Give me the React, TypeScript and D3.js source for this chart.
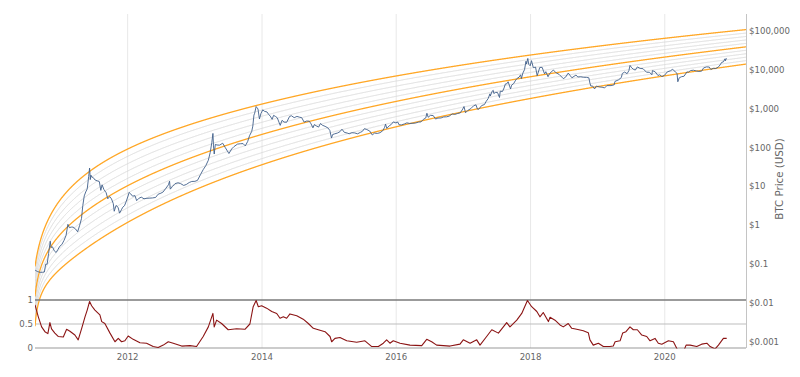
import React, { useMemo } from "react";
import * as d3 from "d3";

// ---------- data ----------
const priceSeries: [string, number][] = [
  ["2010-08-16", 0.07], ["2010-08-28", 0.065], ["2010-09-10", 0.062], ["2010-09-25", 0.062],
  ["2010-10-05", 0.063], ["2010-10-12", 0.1], ["2010-10-20", 0.1], ["2010-10-28", 0.19],
  ["2010-11-06", 0.39], ["2010-11-10", 0.27], ["2010-11-18", 0.28], ["2010-11-28", 0.22],
  ["2010-12-08", 0.2], ["2010-12-18", 0.24], ["2010-12-28", 0.29], ["2011-01-08", 0.32],
  ["2011-01-20", 0.41], ["2011-01-31", 0.55], ["2011-02-10", 1.06], ["2011-02-18", 0.87],
  ["2011-02-28", 0.9], ["2011-03-10", 0.9], ["2011-03-24", 0.8], ["2011-04-04", 0.68],
  ["2011-04-15", 1.0], ["2011-04-25", 1.5], ["2011-05-02", 3.2], ["2011-05-10", 5.7],
  ["2011-05-18", 7.2], ["2011-05-26", 8.6], ["2011-06-03", 18], ["2011-06-08", 29.6],
  ["2011-06-12", 15], ["2011-06-15", 19.5], ["2011-06-20", 17.5], ["2011-06-28", 16.8],
  ["2011-07-08", 14.6], ["2011-07-20", 13.9], ["2011-07-31", 13.3], ["2011-08-08", 7.9],
  ["2011-08-15", 11.0], ["2011-08-25", 8.3], ["2011-09-06", 6.9], ["2011-09-15", 4.8],
  ["2011-09-25", 5.5], ["2011-10-05", 4.8], ["2011-10-15", 3.6], ["2011-10-20", 2.3],
  ["2011-10-30", 3.25], ["2011-11-10", 2.9], ["2011-11-18", 2.05], ["2011-11-28", 2.5],
  ["2011-12-05", 2.9], ["2011-12-15", 3.2], ["2011-12-25", 4.2], ["2012-01-05", 6.0],
  ["2012-01-09", 7.0], ["2012-01-18", 6.4], ["2012-01-28", 5.6], ["2012-02-10", 5.8],
  ["2012-02-19", 4.3], ["2012-03-01", 4.9], ["2012-03-15", 5.3], ["2012-03-30", 4.8],
  ["2012-04-15", 4.95], ["2012-05-01", 5.0], ["2012-05-15", 5.05], ["2012-06-01", 5.2],
  ["2012-06-15", 6.3], ["2012-06-30", 6.7], ["2012-07-12", 7.2], ["2012-07-25", 8.7],
  ["2012-08-10", 11.0], ["2012-08-16", 13.6], ["2012-08-20", 8.5], ["2012-09-01", 10.0],
  ["2012-09-15", 11.8], ["2012-10-01", 12.4], ["2012-10-15", 11.8], ["2012-11-01", 10.6],
  ["2012-11-15", 11.2], ["2012-12-01", 12.6], ["2012-12-15", 13.4], ["2013-01-01", 13.5],
  ["2013-01-15", 14.3], ["2013-02-01", 20.4], ["2013-02-15", 27], ["2013-03-01", 34],
  ["2013-03-15", 47], ["2013-03-25", 74], ["2013-04-03", 135], ["2013-04-09", 230],
  ["2013-04-12", 110], ["2013-04-16", 68], ["2013-04-22", 120], ["2013-05-01", 116],
  ["2013-05-15", 115], ["2013-06-01", 129], ["2013-06-15", 100], ["2013-07-05", 70],
  ["2013-07-20", 92], ["2013-08-01", 105], ["2013-08-20", 122], ["2013-09-05", 125],
  ["2013-09-20", 126], ["2013-10-02", 110], ["2013-10-15", 143], ["2013-10-25", 200],
  ["2013-11-06", 260], ["2013-11-12", 355], ["2013-11-18", 680], ["2013-11-22", 760],
  ["2013-11-30", 1130], ["2013-12-05", 1050], ["2013-12-10", 980], ["2013-12-18", 540],
  ["2013-12-26", 745], ["2014-01-05", 930], ["2014-01-15", 850], ["2014-01-28", 820],
  ["2014-02-07", 700], ["2014-02-15", 640], ["2014-02-25", 530], ["2014-03-05", 670],
  ["2014-03-15", 630], ["2014-03-25", 580], ["2014-04-03", 450], ["2014-04-10", 370],
  ["2014-04-20", 500], ["2014-05-01", 450], ["2014-05-15", 445], ["2014-05-31", 630],
  ["2014-06-10", 655], ["2014-06-25", 585], ["2014-07-10", 630], ["2014-07-25", 600],
  ["2014-08-05", 585], ["2014-08-18", 450], ["2014-09-01", 480], ["2014-09-15", 475],
  ["2014-09-25", 405], ["2014-10-05", 320], ["2014-10-13", 390], ["2014-10-25", 355],
  ["2014-11-05", 335], ["2014-11-15", 415], ["2014-11-25", 375], ["2014-12-10", 350],
  ["2014-12-25", 320], ["2015-01-05", 275], ["2015-01-14", 175], ["2015-01-20", 215],
  ["2015-02-01", 225], ["2015-02-15", 235], ["2015-03-01", 255], ["2015-03-12", 295],
  ["2015-03-25", 245], ["2015-04-10", 235], ["2015-04-20", 225], ["2015-05-05", 240],
  ["2015-05-20", 237], ["2015-06-05", 225], ["2015-06-20", 245], ["2015-07-01", 260],
  ["2015-07-12", 305], ["2015-07-25", 290], ["2015-08-10", 265], ["2015-08-24", 210],
  ["2015-09-05", 235], ["2015-09-20", 230], ["2015-10-05", 240], ["2015-10-20", 270],
  ["2015-10-30", 330], ["2015-11-04", 400], ["2015-11-11", 310], ["2015-11-25", 365],
  ["2015-12-05", 390], ["2015-12-16", 455], ["2015-12-30", 430], ["2016-01-10", 450],
  ["2016-01-16", 385], ["2016-01-30", 380], ["2016-02-15", 405], ["2016-02-28", 430],
  ["2016-03-15", 415], ["2016-04-01", 420], ["2016-04-15", 425], ["2016-05-01", 450],
  ["2016-05-15", 455], ["2016-05-28", 530], ["2016-06-10", 575], ["2016-06-16", 760],
  ["2016-06-23", 600], ["2016-07-05", 670], ["2016-07-20", 665], ["2016-08-02", 540],
  ["2016-08-15", 570], ["2016-09-01", 575], ["2016-09-15", 610], ["2016-10-01", 615],
  ["2016-10-15", 640], ["2016-11-01", 730], ["2016-11-15", 710], ["2016-12-01", 750],
  ["2016-12-15", 780], ["2016-12-28", 975], ["2017-01-04", 1130], ["2017-01-12", 780],
  ["2017-01-25", 900], ["2017-02-10", 1000], ["2017-02-25", 1180], ["2017-03-10", 1250],
  ["2017-03-18", 970], ["2017-03-25", 960], ["2017-04-10", 1200], ["2017-04-25", 1270],
  ["2017-05-05", 1550], ["2017-05-15", 1800], ["2017-05-25", 2400], ["2017-05-27", 2100],
  ["2017-06-06", 2800], ["2017-06-12", 2950], ["2017-06-15", 2450], ["2017-06-25", 2600],
  ["2017-07-05", 2600], ["2017-07-16", 1930], ["2017-07-20", 2800], ["2017-08-01", 2750],
  ["2017-08-10", 3400], ["2017-08-17", 4300], ["2017-08-25", 4350], ["2017-09-01", 4900],
  ["2017-09-14", 3200], ["2017-09-20", 4000], ["2017-10-01", 4400], ["2017-10-12", 5400],
  ["2017-10-20", 6000], ["2017-10-31", 6450], ["2017-11-08", 7400], ["2017-11-12", 5900],
  ["2017-11-20", 8200], ["2017-11-29", 10000], ["2017-12-07", 16500], ["2017-12-10", 14000],
  ["2017-12-17", 19500], ["2017-12-22", 13800], ["2017-12-30", 12600], ["2018-01-06", 17100],
  ["2018-01-16", 11300], ["2018-01-28", 11700], ["2018-02-06", 7000], ["2018-02-20", 11400],
  ["2018-03-05", 11500], ["2018-03-18", 7800], ["2018-03-25", 8900], ["2018-04-06", 6600],
  ["2018-04-15", 8000], ["2018-05-05", 9800], ["2018-05-20", 8300], ["2018-06-05", 7600],
  ["2018-06-28", 5900], ["2018-07-10", 6400], ["2018-07-25", 8200], ["2018-08-05", 7000],
  ["2018-08-14", 6200], ["2018-09-05", 7300], ["2018-09-15", 6500], ["2018-10-01", 6600],
  ["2018-10-15", 6400], ["2018-11-01", 6350], ["2018-11-14", 6200], ["2018-11-20", 4500],
  ["2018-11-25", 3800], ["2018-12-05", 3800], ["2018-12-15", 3200], ["2018-12-25", 3800],
  ["2019-01-10", 3600], ["2019-01-25", 3550], ["2019-02-08", 3400], ["2019-02-20", 3900],
  ["2019-03-15", 3900], ["2019-04-01", 4100], ["2019-04-05", 5000], ["2019-04-25", 5500],
  ["2019-05-10", 6300], ["2019-05-15", 8000], ["2019-05-28", 8700], ["2019-06-10", 7900],
  ["2019-06-20", 9500], ["2019-06-26", 12900], ["2019-07-05", 11200], ["2019-07-15", 10200],
  ["2019-07-25", 9800], ["2019-08-05", 11800], ["2019-08-20", 10800], ["2019-09-05", 10600],
  ["2019-09-24", 8600], ["2019-10-10", 8600], ["2019-10-23", 7400], ["2019-10-26", 9500],
  ["2019-11-10", 8800], ["2019-11-25", 7100], ["2019-12-05", 7400], ["2019-12-17", 6650],
  ["2019-12-31", 7200], ["2020-01-15", 8800], ["2020-02-01", 9400], ["2020-02-13", 10300],
  ["2020-02-28", 8700], ["2020-03-08", 8000], ["2020-03-12", 4900], ["2020-03-20", 6200],
  ["2020-04-01", 6600], ["2020-04-15", 6800], ["2020-04-30", 8700], ["2020-05-10", 8700],
  ["2020-05-20", 9500], ["2020-06-05", 9700], ["2020-06-20", 9300], ["2020-07-05", 9050],
  ["2020-07-20", 9200], ["2020-07-30", 11100], ["2020-08-15", 11800], ["2020-08-30", 11700],
  ["2020-09-08", 10100], ["2020-09-20", 10900], ["2020-10-05", 10700], ["2020-10-20", 11900],
  ["2020-10-28", 13300], ["2020-11-06", 15500], ["2020-11-15", 15900], ["2020-11-24", 19100],
  ["2020-11-26", 17000], ["2020-12-01", 19400], ["2020-12-03", 18900],
];

const oscSeries: [string, number][] = [
  ["2010-08-15", 0.9], ["2010-09-02", 0.65], ["2010-09-20", 0.44], ["2010-10-08", 0.34],
  ["2010-10-24", 0.3], ["2010-11-04", 0.53], ["2010-11-13", 0.4], ["2010-12-01", 0.31],
  ["2010-12-19", 0.24], ["2011-01-16", 0.23], ["2011-02-03", 0.39], ["2011-02-21", 0.35],
  ["2011-03-20", 0.27], ["2011-04-07", 0.17], ["2011-04-26", 0.41], ["2011-05-14", 0.65],
  ["2011-05-26", 0.79], ["2011-06-08", 0.97], ["2011-06-19", 0.88], ["2011-07-07", 0.79],
  ["2011-08-03", 0.69], ["2011-08-13", 0.55], ["2011-08-30", 0.51], ["2011-09-27", 0.31],
  ["2011-10-24", 0.13], ["2011-11-11", 0.2], ["2011-11-29", 0.13], ["2011-12-17", 0.15],
  ["2012-01-04", 0.25], ["2012-01-31", 0.18], ["2012-03-08", 0.11], ["2012-04-13", 0.1],
  ["2012-05-19", 0.03], ["2012-06-15", 0.01], ["2012-07-13", 0.06], ["2012-08-09", 0.13],
  ["2012-09-05", 0.1], ["2012-10-21", 0.04], ["2012-12-05", 0.05], ["2013-01-10", 0.03],
  ["2013-02-15", 0.24], ["2013-03-15", 0.44], ["2013-04-09", 0.72], ["2013-04-16", 0.44],
  ["2013-04-29", 0.58], ["2013-05-26", 0.51], ["2013-07-01", 0.38], ["2013-08-16", 0.4],
  ["2013-09-30", 0.39], ["2013-10-27", 0.5], ["2013-11-14", 0.86], ["2013-11-30", 0.99],
  ["2013-12-12", 0.86], ["2013-12-30", 0.88], ["2014-01-26", 0.83], ["2014-02-23", 0.76],
  ["2014-03-22", 0.72], ["2014-04-09", 0.62], ["2014-04-27", 0.65], ["2014-05-15", 0.62],
  ["2014-06-02", 0.71], ["2014-07-09", 0.67], ["2014-08-13", 0.6], ["2014-09-10", 0.51],
  ["2014-10-07", 0.41], ["2014-11-03", 0.38], ["2014-12-10", 0.34], ["2015-01-06", 0.24],
  ["2015-01-15", 0.13], ["2015-02-02", 0.2], ["2015-03-01", 0.22], ["2015-04-07", 0.15],
  ["2015-05-31", 0.12], ["2015-07-15", 0.15], ["2015-08-21", 0.03], ["2015-09-26", 0.03],
  ["2015-10-23", 0.1], ["2015-11-10", 0.17], ["2015-11-28", 0.1], ["2015-12-16", 0.15],
  ["2016-01-22", 0.1], ["2016-03-16", 0.06], ["2016-05-19", 0.05], ["2016-06-15", 0.18],
  ["2016-07-12", 0.13], ["2016-08-08", 0.06], ["2016-10-20", 0.04], ["2016-12-13", 0.08],
  ["2016-12-31", 0.17], ["2017-02-06", 0.1], ["2017-03-14", 0.17], ["2017-04-01", 0.06],
  ["2017-05-07", 0.24], ["2017-06-04", 0.38], ["2017-07-10", 0.31], ["2017-08-06", 0.44],
  ["2017-08-24", 0.53], ["2017-09-11", 0.44], ["2017-10-18", 0.58], ["2017-11-14", 0.72],
  ["2017-12-15", 0.99], ["2018-01-07", 0.86], ["2018-02-04", 0.76], ["2018-02-21", 0.65],
  ["2018-03-11", 0.74], ["2018-04-08", 0.55], ["2018-04-17", 0.64], ["2018-05-14", 0.58],
  ["2018-06-10", 0.48], ["2018-06-28", 0.44], ["2018-07-25", 0.51], ["2018-08-13", 0.41],
  ["2018-09-09", 0.39], ["2018-10-15", 0.36], ["2018-11-11", 0.32], ["2018-11-20", 0.17],
  ["2018-12-08", 0.06], ["2019-01-05", 0.1], ["2019-02-01", 0.03], ["2019-03-09", 0.03],
  ["2019-03-27", 0.04], ["2019-04-06", 0.13], ["2019-05-03", 0.15], ["2019-05-17", 0.31],
  ["2019-06-04", 0.34], ["2019-06-26", 0.44], ["2019-07-14", 0.38], ["2019-08-05", 0.38],
  ["2019-08-29", 0.27], ["2019-09-25", 0.24], ["2019-10-13", 0.15], ["2019-11-09", 0.2],
  ["2019-11-27", 0.1], ["2019-12-16", 0.08], ["2020-01-21", 0.15], ["2020-02-17", 0.13],
  ["2020-03-12", -0.05], ["2020-03-30", -0.2], ["2020-04-26", 0.06], ["2020-05-18", 0.06],
  ["2020-06-23", 0.03], ["2020-07-20", 0.08], ["2020-08-17", 0.1], ["2020-09-04", 0.03],
  ["2020-10-01", -0.02], ["2020-10-19", 0.06], ["2020-11-15", 0.2], ["2020-12-03", 0.2],
];

const priceTickValues = [100000, 10000, 1000, 100, 10, 1, 0.1, 0.01, 0.001];
const priceTickLabels = ["$100,000", "$10,000", "$1,000", "$100", "$10", "$1", "$0.1", "$0.01", "$0.001"];
const oscTickValues = [1, 0.5, 0];
const oscTickLabels = ["1", "0.5", "0"];
const yearTickDates = ["2012-01-01", "2014-01-01", "2016-01-01", "2018-01-01", "2020-01-01"];
const yearTickLabels = ["2012", "2014", "2016", "2018", "2020"];
const xDomain = ["2010-08-15", "2021-03-18"];
const genesisDate = "2009-01-03";
const bandFractions = [0, 0.1, 0.2, 0.3, 0.4, 0.5, 0.6, 0.7, 0.8, 0.9, 1];
const highlightFractions = [0, 0.5, 1];

// log-growth curve parameters:
// log10(price) = a*ln(days) + b + c*ln(1 - exp(-(days - d0)/tau))
const upperCurve = { a: 2.14, b: -12.95, c: 0.85, d0: 562, tau: 200 };
const lowerCurve = { a: 2.895, b: -20.18, c: 0.55, d0: 580, tau: 40 };

// ---------- layout ----------
const W = 800;
const H = 377;
const L = 35;
const R = 746;
const T = 14;
const B = 348;
const OSC_TOP = 300;
const FONT = "Verdana, 'DejaVu Sans', sans-serif";
const TXT = "#666";

const parse = d3.utcParse("%Y-%m-%d");
const DAY = 86400000;

type Curve = { a: number; b: number; c: number; d0: number; tau: number };
function curveLog(cv: Curve, d: number) {
  const u = Math.max(1e-6, 1 - Math.exp(-(d - cv.d0) / cv.tau));
  return cv.a * Math.log(d) + cv.b + cv.c * Math.log(u);
}

export default function App() {
  const m = useMemo(() => {
    const x = d3.scaleUtc().domain(xDomain.map((s) => parse(s) as Date)).range([L, R]);
    const y = d3.scaleLog().domain([Math.pow(10, -3.154), Math.pow(10, 5.432)]).range([B, T]);
    const yo = d3.scaleLinear().domain([0, 1]).range([B, OSC_TOP]);
    const gen = (parse(genesisDate) as Date).getTime();
    const start = (parse(xDomain[0]) as Date).getTime();
    const end = (parse(xDomain[1]) as Date).getTime();
    const times: number[] = d3.range(start, end + DAY, DAY);
    const bands = bandFractions.map((f) => {
      const pts = times.map((t) => {
        const d = (t - gen) / DAY;
        const lo = curveLog(lowerCurve, d);
        const hi = curveLog(upperCurve, d);
        return [t, Math.pow(10, lo + f * (hi - lo))] as [number, number];
      });
      const line = d3
        .line<[number, number]>()
        .x((p) => x(new Date(p[0])))
        .y((p) => y(p[1]));
      return { f, d: line(pts) || "", hl: highlightFractions.includes(f) };
    });
    const priceLine =
      d3
        .line<[string, number]>()
        .x((p) => x(parse(p[0]) as Date))
        .y((p) => y(p[1]))(priceSeries) || "";
    const oscLine =
      d3
        .line<[string, number]>()
        .x((p) => x(parse(p[0]) as Date))
        .y((p) => yo(p[1]))(oscSeries) || "";
    return { x, y, yo, bands, priceLine, oscLine };
  }, []);

  const { x, y, yo, bands, priceLine, oscLine } = m;

  return (
    <svg
      width={W}
      height={H}
      style={{ position: "absolute", left: 0, top: 0, background: "#fff" }}
      fontFamily={FONT}
    >
      <defs>
        <clipPath id="plotClip">
          <rect x={L} y={T} width={R - L} height={B - T} />
        </clipPath>
        <clipPath id="oscClip">
          <rect x={L} y={OSC_TOP - 1} width={R - L} height={B - OSC_TOP + 1.5} />
        </clipPath>
      </defs>
      <rect x={0} y={0} width={W} height={H} fill="#fff" />

      {/* vertical grid */}
      {yearTickDates.map((s) => {
        const xx = x(parse(s) as Date);
        return <line key={s} x1={xx} x2={xx} y1={T} y2={B} stroke="#e8e8e8" strokeWidth={1} />;
      })}

      {/* bottom panel horizontal lines */}
      <line x1={L} x2={R} y1={yo(0.5)} y2={yo(0.5)} stroke="#bdbdbd" strokeWidth={1} />
      <line x1={L} x2={R} y1={yo(0)} y2={yo(0)} stroke="#999" strokeWidth={1.2} />

      {/* bands */}
      <g clipPath="url(#plotClip)">
        {bands
          .filter((b) => !b.hl)
          .map((b) => (
            <path key={b.f} d={b.d} fill="none" stroke="#d6d6d6" strokeWidth={0.9} />
          ))}
        {bands
          .filter((b) => b.hl)
          .map((b) => (
            <path key={b.f} d={b.d} fill="none" stroke="#ffa726" strokeWidth={1.3} />
          ))}
        <path d={priceLine} fill="none" stroke="#3f5f8a" strokeWidth={0.9} strokeLinejoin="round" />
      </g>

      <line x1={L} x2={R} y1={yo(1)} y2={yo(1)} stroke="#7a7a7a" strokeWidth={1.3} />

      {/* oscillator */}
      <g clipPath="url(#oscClip)">
        <path d={oscLine} fill="none" stroke="#8b1414" strokeWidth={1.1} strokeLinejoin="round" />
      </g>

      {/* right axis line */}
      <line x1={R + 0.5} x2={R + 0.5} y1={T} y2={B} stroke="#c4c4c4" strokeWidth={1} />

      {/* right tick labels */}
      {priceTickValues.map((v, i) => (
        <text key={v} x={R + 3} y={y(v)} dy="0.35em" fontSize={8.6} fill={TXT}>
          {priceTickLabels[i]}
        </text>
      ))}

      {/* left osc tick labels */}
      {oscTickValues.map((v, i) => (
        <text key={v} x={L - 2} y={yo(v)} dy="0.35em" fontSize={8.6} fill={TXT} textAnchor="end">
          {oscTickLabels[i]}
        </text>
      ))}

      {/* x labels */}
      {yearTickDates.map((s, i) => (
        <text key={s} x={x(parse(s) as Date)} y={360} fontSize={8.6} fill={TXT} textAnchor="middle">
          {yearTickLabels[i]}
        </text>
      ))}

      {/* right title */}
      <text
        transform={`translate(783, ${(T + B) / 2 - 2}) rotate(-90)`}
        fontSize={10.3}
        fill={TXT}
        textAnchor="middle"
      >
        BTC Price (USD)
      </text>
    </svg>
  );
}
